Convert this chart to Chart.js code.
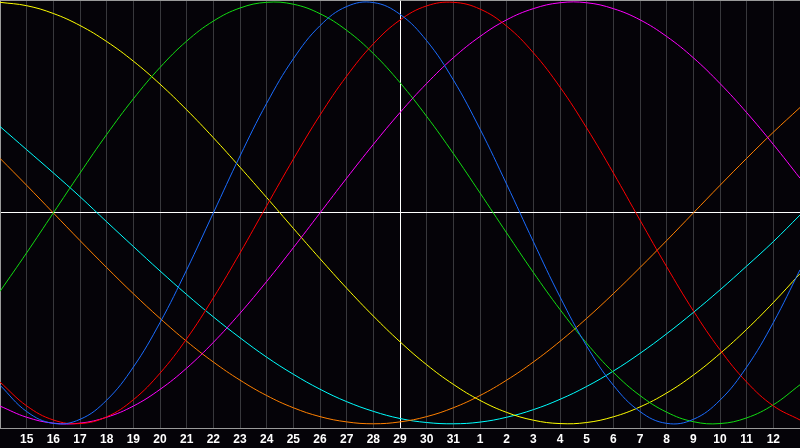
<!DOCTYPE html>
<html>
<head>
<meta charset="utf-8">
<script src="https://cdn.jsdelivr.net/npm/chart.js@4/dist/chart.umd.min.js"></script>
<style>
  html, body { margin: 0; padding: 0; background: #050308; }
  #wrap { width: 800px; height: 448px; }
</style>
</head>
<body>
<div id="wrap"><canvas id="c" width="800" height="448"></canvas></div>
<script>
// Day categories (index 0 = 14th, index 15 = today the 29th, index 30 = 13th of next month)
const days = ['14','15','16','17','18','19','20','21','22','23','24','25','26','27','28','29','30','31',
              '1','2','3','4','5','6','7','8','9','10','11','12','13'];
const todayIndex = 15;

// Series values, one per day
const physical = [-0.817,-0.942,-0.998,-0.979,-0.888,-0.731,-0.520,-0.270,0.000,0.270,0.520,0.731,0.888,0.979,0.998,0.942,0.817,0.631,0.398,0.136,-0.136,-0.398,-0.631,-0.817,-0.942,-0.998,-0.979,-0.888,-0.731,-0.520,-0.270];
const emotional = [-0.802,-0.915,-0.982,-0.999,-0.967,-0.886,-0.760,-0.597,-0.403,-0.190,0.034,0.255,0.464,0.649,0.802,0.915,0.982,0.999,0.967,0.886,0.760,0.597,0.403,0.190,-0.034,-0.255,-0.464,-0.649,-0.802,-0.915,-0.982];
const intellectual = [-0.372,-0.189,0.000,0.189,0.372,0.541,0.690,0.815,0.910,0.972,0.999,0.990,0.945,0.866,0.756,0.618,0.458,0.282,0.095,-0.095,-0.282,-0.458,-0.618,-0.756,-0.866,-0.945,-0.990,-0.999,-0.972,-0.910,-0.815];
const intuitive = [-0.916,-0.969,-0.997,-0.997,-0.969,-0.916,-0.837,-0.736,-0.614,-0.476,-0.325,-0.165,0.000,0.165,0.325,0.476,0.614,0.736,0.837,0.916,0.969,0.997,0.997,0.969,0.916,0.837,0.736,0.614,0.476,0.325,0.165];
const aesthetic = [0.999,0.983,0.946,0.889,0.813,0.720,0.611,0.489,0.357,0.217,0.073,-0.073,-0.217,-0.357,-0.489,-0.611,-0.720,-0.813,-0.889,-0.946,-0.983,-0.999,-0.994,-0.967,-0.920,-0.854,-0.769,-0.667,-0.552,-0.425,-0.288];
const awareness = [0.259,0.131,0.000,-0.131,-0.259,-0.383,-0.500,-0.609,-0.707,-0.793,-0.866,-0.924,-0.966,-0.991,-1.000,-0.991,-0.966,-0.924,-0.866,-0.793,-0.707,-0.609,-0.500,-0.383,-0.259,-0.131,0.000,0.131,0.259,0.383,0.500];
const spiritual = [0.410,0.300,0.190,0.077,-0.042,-0.159,-0.275,-0.387,-0.493,-0.592,-0.684,-0.765,-0.836,-0.895,-0.941,-0.975,-0.994,-1.000,-0.992,-0.969,-0.933,-0.884,-0.823,-0.750,-0.666,-0.573,-0.472,-0.365,-0.252,-0.136,-0.010];

const yMin = -1.02, yMax = 1.01;

function ds(label, data, color) {
  return { label, data, borderColor: color, borderWidth: 1, pointRadius: 0, tension: 0.4, fill: false };
}

const bgPlugin = {
  id: 'bg',
  beforeDraw(chart) {
    const ctx = chart.ctx;
    ctx.save();
    ctx.fillStyle = '#050308';
    ctx.fillRect(0, 0, chart.width, chart.height);
    ctx.restore();
  }
};

new Chart(document.getElementById('c'), {
  type: 'line',
  data: {
    labels: days,
    datasets: [
      ds('Physical', physical, '#1a6cff'),
      ds('Emotional', emotional, '#ff0000'),
      ds('Intellectual', intellectual, '#11dd11'),
      ds('Intuitive', intuitive, '#ff00ff'),
      ds('Aesthetic', aesthetic, '#ffff00'),
      ds('Awareness', awareness, '#ff8000'),
      ds('Spiritual', spiritual, '#00ffff')
    ]
  },
  options: {
    responsive: false,
    animation: false,
    devicePixelRatio: 1,
    layout: { padding: 0 },
    plugins: { legend: { display: false }, tooltip: { enabled: false } },
    scales: {
      x: {
        type: 'category',
        offset: false,
        afterFit: (s) => { s.height = 20; s.paddingLeft = 0; s.paddingRight = 0; },
        grid: {
          drawTicks: false,
          lineWidth: 1,
          color: (c) => c.index === todayIndex ? '#ffffff' : (c.index === 0 ? '#9a9a9a' : '#38383c')
        },
        border: { display: true, color: '#9a9a9a', width: 1 },
        ticks: {
          autoSkip: false,
          maxRotation: 0,
          minRotation: 0,
          padding: 4,
          color: '#ffffff',
          font: { family: 'Liberation Sans, Arial, sans-serif', size: 12, weight: 'bold' },
          callback: function (value, index) {
            return (index === 0 || index === days.length - 1) ? '' : this.getLabelForValue(value);
          }
        }
      },
      y: {
        min: yMin,
        max: yMax,
        afterFit: (s) => { s.width = 0; s.paddingTop = 0; s.paddingBottom = 0; },
        afterBuildTicks: (s) => { s.ticks = [{ value: yMin }, { value: 0 }, { value: yMax }]; },
        grid: {
          drawTicks: false,
          color: (c) => c.tick && c.tick.value === 0 ? '#ffffff' : '#9a9a9a'
        },
        border: { display: true, color: '#9a9a9a', width: 1 },
        ticks: { display: false }
      }
    }
  },
  plugins: [bgPlugin]
});
</script>
</body>
</html>
